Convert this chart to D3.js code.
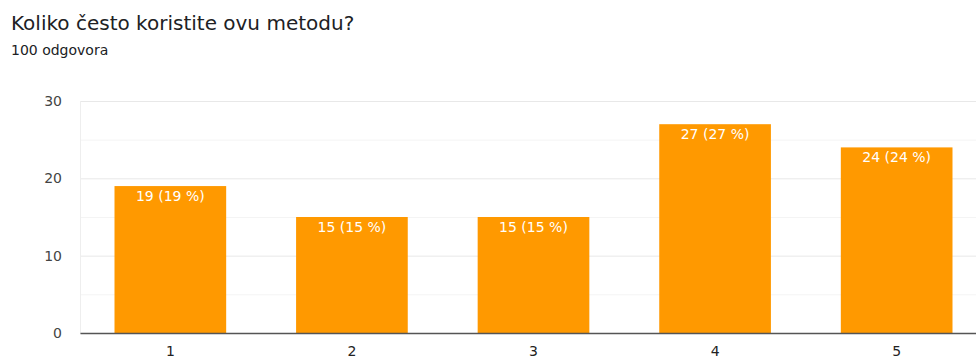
<!DOCTYPE html>
<html>
<head>
<meta charset="utf-8">
<script src="https://cdn.jsdelivr.net/npm/d3@7"></script>
<style>
  body { margin: 0; background: #fff; font-family: 'DejaVu Sans', sans-serif; }
  svg { display: block; }
</style>
</head>
<body>
<div class="chart"></div>
<script>
const TITLE = 'Koliko često koristite ovu metodu?'
const SUBTITLE = '100 odgovora'
const categories = ['1', '2', '3', '4', '5']
const counts = [19, 15, 15, 27, 24]
const percents = [19, 15, 15, 27, 24]
const yTicks = [0, 10, 20, 30]
const yMinor = [5, 15, 25]

const W = 976
const H = 356
const FONT = "'DejaVu Sans', sans-serif"
const margin = {top: 101, left: 80, bottom: 23}
const plotW = 907
const plotH = H - margin.top - margin.bottom

const svg = d3.select('.chart').append('svg')
  .attr('width', W)
  .attr('height', H)
  .attr('font-family', FONT)

svg.append('text')
  .attr('x', 11).attr('y', 29.5)
  .attr('font-size', 20)
  .attr('fill', '#202124')
  .text(TITLE)

svg.append('text')
  .attr('x', 11).attr('y', 55)
  .attr('font-size', 14)
  .attr('fill', '#202124')
  .text(SUBTITLE)

const x = d3.scaleBand()
  .domain(categories)
  .range([0, plotW])
  .paddingInner(0.385)
  .paddingOuter(0.19)

const y = d3.scaleLinear()
  .domain([0, 30])
  .range([plotH, 0])

const g = svg.append('g')
  .attr('transform', `translate(${margin.left},${margin.top})`)

// minor gridlines
g.selectAll('line.minor').data(yMinor).enter().append('line')
  .attr('class', 'minor')
  .attr('x1', 0).attr('x2', plotW)
  .attr('y1', d => y(d) + 0.5).attr('y2', d => y(d) + 0.5)
  .attr('stroke', '#f4f4f4')

// major gridlines via axis
const axisLeft = d3.axisLeft(y).tickValues(yTicks).tickSize(-plotW).tickPadding(18)
const yAxis = g.append('g').attr('class', 'axis axis--y').call(axisLeft)
yAxis.select('.domain').remove()
yAxis.selectAll('line').attr('stroke', '#e8e8e8')
yAxis.selectAll('text')
  .attr('font-size', 14)
  .attr('font-family', FONT)
  .attr('fill', '#444')

// left edge line
g.append('line')
  .attr('x1', 0.5).attr('x2', 0.5)
  .attr('y1', 0).attr('y2', plotH)
  .attr('stroke', '#eeeeee')

g.selectAll('rect.bar').data(counts).enter().append('rect')
  .attr('class', 'bar')
  .attr('x', (d, i) => x(categories[i]))
  .attr('y', d => y(d))
  .attr('width', x.bandwidth())
  .attr('height', d => plotH - y(d))
  .attr('fill', '#ff9900')

g.selectAll('text.label').data(counts).enter().append('text')
  .attr('class', 'label')
  .attr('x', (d, i) => x(categories[i]) + x.bandwidth() / 2)
  .attr('y', d => y(d) + 15)
  .attr('text-anchor', 'middle')
  .attr('font-size', 14)
  .attr('fill', '#fff')
  .text((d, i) => `${d} (${percents[i]} %)`)

const axisBottom = d3.axisBottom(x).tickSize(0).tickPadding(13)
const xAxis = g.append('g')
  .attr('class', 'axis axis--x')
  .attr('transform', `translate(0,${plotH})`)
  .call(axisBottom)
xAxis.select('.domain').attr('stroke', '#555').attr('stroke-width', 1.5)
xAxis.selectAll('text')
  .attr('font-size', 14)
  .attr('font-family', FONT)
  .attr('fill', '#222')
</script>
</body>
</html>
